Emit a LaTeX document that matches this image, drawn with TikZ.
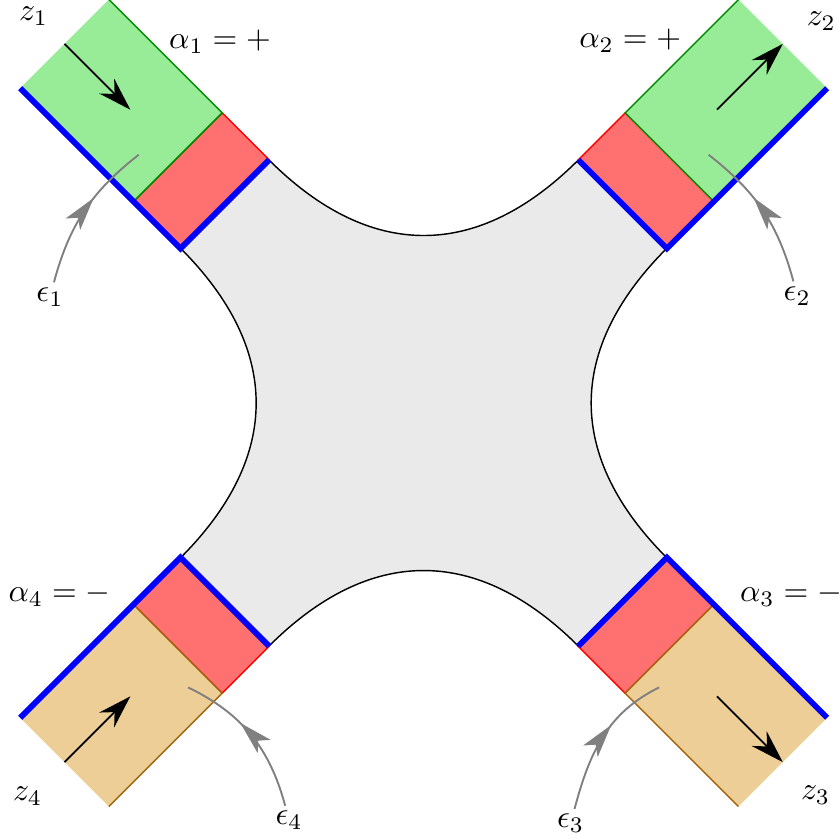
\documentclass[tikz,border=0pt]{standalone}
\usetikzlibrary{arrows.meta,decorations.markings}
\definecolor{armgreen}{RGB}{152,236,152}
\definecolor{armgreenline}{RGB}{0,140,0}
\definecolor{armtan}{RGB}{237,206,150}
\definecolor{armtanline}{RGB}{160,100,10}
\definecolor{armred}{RGB}{255,112,112}
\definecolor{coregray}{RGB}{234,234,234}
\begin{document}
\begin{tikzpicture}[x=0.7cm,y=0.7cm,
  thinline/.style={line width=0.45pt},
  bluestrip/.style={blue, line width=1.8pt},
  flowarrow/.style={line width=0.55pt, -{Stealth[length=10.5pt,width=6.6pt,inset=3.5pt]}},
  epsarrow/.style={gray, line width=0.6pt, postaction={decorate},
    decoration={markings, mark=at position 0.6 with {\arrow{Stealth[length=10.5pt,width=5.8pt,inset=2.6pt]}}}},
  lab/.style={inner sep=1.5pt}]
\useasboundingbox (-6.69,-6.90) rectangle (6.56,6.364);

% central region
\coordinate (tlu) at (-2.4416,3.8375);
\coordinate (tru) at (2.4416,3.8375);
\coordinate (trr) at (3.8375,2.4416);
\coordinate (brr) at (3.8375,-2.4416);
\coordinate (brd) at (2.4416,-3.8375);
\coordinate (bld) at (-2.4416,-3.8375);
\coordinate (bll) at (-3.8375,-2.4416);
\coordinate (tll) at (-3.8375,2.4416);
\filldraw[fill=coregray, draw=black, thinline]
  (tlu) .. controls (-0.85,2.2475) and (0.85,2.2475) .. (tru) -- (trr)
  .. controls (2.2475,0.85) and (2.2475,-0.85) .. (brr) -- (brd)
  .. controls (0.85,-2.2475) and (-0.85,-2.2475) .. (bld) -- (bll)
  .. controls (-2.2475,-0.85) and (-2.2475,0.85) .. (tll) -- cycle;

% arms
\foreach \ang/\s/\t/\fc/\lc/\a/\b in {
  135/0.99/-0.99/armgreen/armgreenline/8.02/6.55,
  45/-0.99/0.99/armgreen/armgreenline/6.55/8.02,
  -45/0.99/-0.99/armtan/armtanline/6.55/8.02,
  225/-0.99/0.99/armtan/armtanline/8.02/6.55} {
  \begin{scope}[rotate=\ang]
    \filldraw[fill=armred, draw=red, thinline] (4.44,-0.99) rectangle (5.49,0.99);
    \fill[\fc] (5.49,-0.99) rectangle (8.02,0.99);
    \draw[\lc, thinline] (8.02,\t) -- (5.49,\t) -- (5.49,\s);
    \draw[bluestrip] (8.02,\s) -- (4.44,\s) -- (4.44,\t);
    \draw[flowarrow] (\a,0) -- (\b,0);
  \end{scope}
}

% labels
\node[lab] (z1) at (-6.16,6.11) {$z_1$};
\node[lab] (z2) at (6.28,6.03) {$z_2$};
\node[lab] (z3) at (6.19,-6.19) {$z_3$};
\node[lab] (z4) at (-6.255,-6.21) {$z_4$};
\node[lab] (a1) at (-3.215,5.70) {$\alpha_1=+$};
\node[lab] (a2) at (3.262,5.72) {$\alpha_2=+$};
\node[lab] (a3) at (5.80,-3.03) {$\alpha_3=-$};
\node[lab] (a4) at (-5.75,-3.03) {$\alpha_4=-$};
\node[lab] (e1) at (-5.90,1.675) {$\epsilon_1$};
\node[lab] (e2) at (5.90,1.69) {$\epsilon_2$};
\node[lab] (e3) at (2.32,-6.64) {$\epsilon_3$};
\node[lab] (e4) at (-2.125,-6.59) {$\epsilon_4$};

% epsilon pointers
\coordinate (e1end) at (-4.50,3.92);
\coordinate (e2end) at (4.50,3.92);
\coordinate (e3end) at (3.72,-4.49);
\coordinate (e4end) at (-3.72,-4.49);
\draw[epsarrow] (e1) to[out=75,in=218] (e1end);
\draw[epsarrow] (e2) to[out=105,in=-38] (e2end);
\draw[epsarrow] (e3) to[out=75,in=206] (e3end);
\draw[epsarrow] (e4) to[out=105,in=-26] (e4end);
\end{tikzpicture}
\end{document}
